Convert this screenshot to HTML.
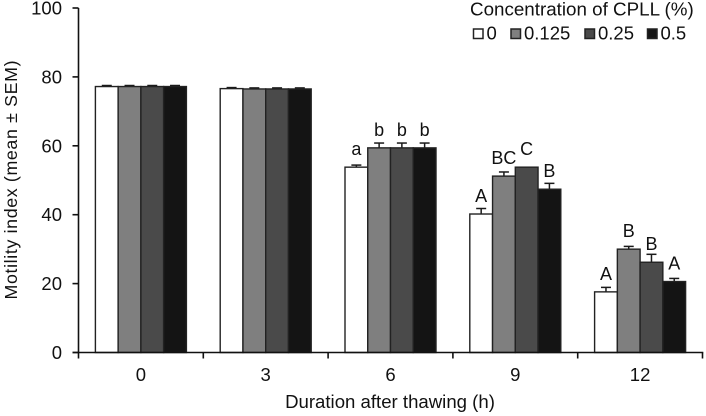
<!DOCTYPE html>
<html>
<head>
<meta charset="utf-8">
<style>
html,body{margin:0;padding:0;background:#fff;}
svg{display:block;font-family:"Liberation Sans",sans-serif;fill:#111;}
</style>
</head>
<body>
<svg id="chart" width="706" height="416" viewBox="0 0 706 416" xmlns="http://www.w3.org/2000/svg"></svg>
<script>
const categories = ['0', '3', '6', '9', '12'];
const seriesNames = ['0', '0.125', '0.25', '0.5'];
const seriesValues = [
  [77.2, 76.6, 53.8, 40.2, 17.6],
  [77.2, 76.5, 59.4, 51.2, 30.0],
  [77.2, 76.5, 59.4, 53.8, 26.2],
  [77.2, 76.5, 59.4, 47.4, 20.6]
];
const seriesErrors = [
  [0.3, 0.3, 0.6, 1.6, 1.3],
  [0.3, 0.3, 1.4, 1.2, 0.8],
  [0.3, 0.3, 1.4, 0.0, 2.3],
  [0.3, 0.3, 1.4, 1.7, 0.9]
];
const seriesLetters = [
  ['', '', 'a', 'A', 'A'],
  ['', '', 'b', 'BC', 'B'],
  ['', '', 'b', 'C', 'B'],
  ['', '', 'b', 'B', 'A']
];
const seriesColors = ['#ffffff', '#7f7f7f', '#4a4a4a', '#141414'];
const yTicks = [0, 20, 40, 60, 80, 100];

const svg = document.getElementById('chart');
const NS = 'http://www.w3.org/2000/svg';
const x0 = 78.5, groupW = 124.8, barW = 22.75, yBase = 352.5, yScale = 3.445;
function yPos(v) { return yBase - v * yScale; }
function groupLeft(i) { return x0 + i * groupW; }
function barLeft(g, s) { return groupLeft(g) + groupW / 2 - 2 * barW + s * barW; }
function make(tag, attrs, text) {
  const el = document.createElementNS(NS, tag);
  for (const k in attrs) el.setAttribute(k, attrs[k]);
  if (text !== undefined) el.textContent = text;
  svg.appendChild(el);
  return el;
}
const ink = { stroke: '#1a1a1a', 'stroke-width': 1.5 };

seriesValues.forEach(function (vals, s) {
  vals.forEach(function (v, g) {
    const x = barLeft(g, s);
    const cx = x + barW / 2;
    const top = yPos(v);
    const errTop = yPos(v + seriesErrors[s][g]);
    if (seriesErrors[s][g] > 0) {
      const stem = make('line', Object.assign({ x1: cx, x2: cx, y1: top, y2: errTop }, ink));
      
      
      const cap = make('line', Object.assign({ x1: cx - 5, x2: cx + 5, y1: errTop, y2: errTop }, ink));
      
      
    }
    const bar = make('rect', { x: x, y: top, width: barW, height: yBase - top, fill: seriesColors[s], stroke: '#222', 'stroke-width': 1.4 });
    
    
    const letter = seriesLetters[s][g];
    if (letter) {
      const t = make('text', { x: cx, y: top - 12, 'text-anchor': 'middle', 'font-size': 18 }, letter);
      
      
    }
  });
});

const yAxis = make('line', { x1: x0, x2: x0, y1: yPos(100), y2: yBase + 6, stroke: '#111', 'stroke-width': 1.6 });


const xAxis = make('line', { x1: x0 - 6, x2: groupLeft(categories.length) + 0.8, y1: yBase, y2: yBase, stroke: '#111', 'stroke-width': 1.6 });



yTicks.forEach(function (v) {
  const tick = make('line', { x1: x0 - 6, x2: x0, y1: yPos(v), y2: yPos(v), stroke: '#111', 'stroke-width': 1.6 });
  
  
  const label = make('text', { x: 62, y: yPos(v) + 6.5, 'text-anchor': 'end', 'font-size': 18.5 }, String(v));
  
  
});

categories.forEach(function (c, i) {
  const tick = make('line', { x1: groupLeft(i + 1), x2: groupLeft(i + 1), y1: yBase, y2: yBase + 6, stroke: '#111', 'stroke-width': 1.6 });
  
  
  const label = make('text', { x: groupLeft(i) + groupW / 2, y: 381, 'text-anchor': 'middle', 'font-size': 18.5 }, c);
  
  
});

const xTitle = make('text', { x: 390, y: 408, 'text-anchor': 'middle', 'font-size': 18.6 }, 'Duration after thawing (h)');


const yTitle = make('text', { x: 0, y: 0, 'text-anchor': 'middle', 'font-size': 17.8, textLength: 239, lengthAdjust: 'spacing', transform: 'translate(17 180) rotate(-90)' }, 'Motility index (mean \u00b1 SEM)');



const legendTitle = make('text', { x: 470, y: 15.5, 'font-size': 18.8 }, 'Concentration of CPLL (%)');


const legendSwatchX = [473.5, 511, 585, 647.5];
seriesNames.forEach(function (name, s) {
  const box = make('rect', { x: legendSwatchX[s], y: 29, width: 9.5, height: 9.5, fill: seriesColors[s], stroke: '#222', 'stroke-width': 1.5 });
  
  
  const t = make('text', { x: legendSwatchX[s] + 13, y: 39.5, 'font-size': 18.5 }, name);
  
  
});
</script>
</body>
</html>
